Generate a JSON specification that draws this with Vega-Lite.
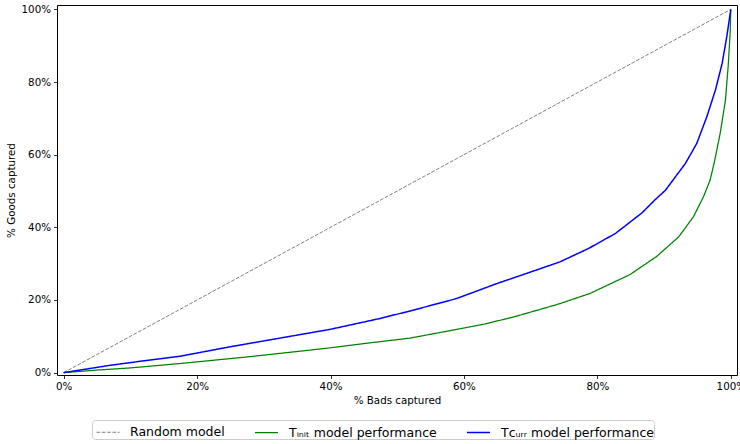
{
  "$schema": "https://vega.github.io/schema/vega-lite/v6.json",
  "width": 680,
  "height": 370,
  "autosize": "none",
  "padding": {"left": 57, "top": 5, "right": 3, "bottom": 69},
  "background": "white",
  "config": {
    "font": "DejaVu Sans",
    "view": {"stroke": "black", "strokeWidth": 1},
    "axis": {
      "grid": false,
      "domain": false,
      "tickColor": "black",
      "tickSize": 3.5,
      "tickWidth": 0.8,
      "labelFont": "DejaVu Sans",
      "labelFontSize": 10.3,
      "labelColor": "black",
      "labelPadding": 3,
      "titleFont": "DejaVu Sans",
      "titleFontSize": 10.3,
      "titleFontWeight": "normal",
      "titleColor": "black"
    },
    "legend": {
      "labelFont": "DejaVu Sans",
      "labelFontSize": 12.5,
      "labelColor": "black"
    }
  },
  "data": {
    "values": [
      {"series": "Random model", "bads": 0.0, "goods": 0.0},
      {"series": "Random model", "bads": 1.0, "goods": 1.0},

      {"series": "Tᵢₙᵢₜ model performance", "bads": 0.0, "goods": 0.0},
      {"series": "Tᵢₙᵢₜ model performance", "bads": 0.05, "goods": 0.007},
      {"series": "Tᵢₙᵢₜ model performance", "bads": 0.10, "goods": 0.013},
      {"series": "Tᵢₙᵢₜ model performance", "bads": 0.174, "goods": 0.025},
      {"series": "Tᵢₙᵢₜ model performance", "bads": 0.274, "goods": 0.043},
      {"series": "Tᵢₙᵢₜ model performance", "bads": 0.389, "goods": 0.066},
      {"series": "Tᵢₙᵢₜ model performance", "bads": 0.45, "goods": 0.080},
      {"series": "Tᵢₙᵢₜ model performance", "bads": 0.519, "goods": 0.095},
      {"series": "Tᵢₙᵢₜ model performance", "bads": 0.589, "goods": 0.119},
      {"series": "Tᵢₙᵢₜ model performance", "bads": 0.629, "goods": 0.133},
      {"series": "Tᵢₙᵢₜ model performance", "bads": 0.674, "goods": 0.153},
      {"series": "Tᵢₙᵢₜ model performance", "bads": 0.714, "goods": 0.174},
      {"series": "Tᵢₙᵢₜ model performance", "bads": 0.744, "goods": 0.190},
      {"series": "Tᵢₙᵢₜ model performance", "bads": 0.789, "goods": 0.218},
      {"series": "Tᵢₙᵢₜ model performance", "bads": 0.849, "goods": 0.270},
      {"series": "Tᵢₙᵢₜ model performance", "bads": 0.889, "goods": 0.320},
      {"series": "Tᵢₙᵢₜ model performance", "bads": 0.922, "goods": 0.374},
      {"series": "Tᵢₙᵢₜ model performance", "bads": 0.944, "goods": 0.429},
      {"series": "Tᵢₙᵢₜ model performance", "bads": 0.959, "goods": 0.484},
      {"series": "Tᵢₙᵢₜ model performance", "bads": 0.969, "goods": 0.530},
      {"series": "Tᵢₙᵢₜ model performance", "bads": 0.976, "goods": 0.585},
      {"series": "Tᵢₙᵢₜ model performance", "bads": 0.984, "goods": 0.658},
      {"series": "Tᵢₙᵢₜ model performance", "bads": 0.992, "goods": 0.750},
      {"series": "Tᵢₙᵢₜ model performance", "bads": 0.996, "goods": 0.842},
      {"series": "Tᵢₙᵢₜ model performance", "bads": 0.999, "goods": 0.934},
      {"series": "Tᵢₙᵢₜ model performance", "bads": 1.0, "goods": 1.0},

      {"series": "Tᴄᵤᵣᵣ model performance", "bads": 0.0, "goods": 0.0},
      {"series": "Tᴄᵤᵣᵣ model performance", "bads": 0.069, "goods": 0.020},
      {"series": "Tᴄᵤᵣᵣ model performance", "bads": 0.13, "goods": 0.035},
      {"series": "Tᴄᵤᵣᵣ model performance", "bads": 0.174, "goods": 0.045},
      {"series": "Tᴄᵤᵣᵣ model performance", "bads": 0.249, "goods": 0.071},
      {"series": "Tᴄᵤᵣᵣ model performance", "bads": 0.324, "goods": 0.095},
      {"series": "Tᴄᵤᵣᵣ model performance", "bads": 0.399, "goods": 0.119},
      {"series": "Tᴄᵤᵣᵣ model performance", "bads": 0.474, "goods": 0.149},
      {"series": "Tᴄᵤᵣᵣ model performance", "bads": 0.524, "goods": 0.172},
      {"series": "Tᴄᵤᵣᵣ model performance", "bads": 0.589, "goods": 0.204},
      {"series": "Tᴄᵤᵣᵣ model performance", "bads": 0.649, "goods": 0.245},
      {"series": "Tᴄᵤᵣᵣ model performance", "bads": 0.700, "goods": 0.277},
      {"series": "Tᴄᵤᵣᵣ model performance", "bads": 0.744, "goods": 0.305},
      {"series": "Tᴄᵤᵣᵣ model performance", "bads": 0.787, "goods": 0.342},
      {"series": "Tᴄᵤᵣᵣ model performance", "bads": 0.827, "goods": 0.383},
      {"series": "Tᴄᵤᵣᵣ model performance", "bads": 0.867, "goods": 0.440},
      {"series": "Tᴄᵤᵣᵣ model performance", "bads": 0.886, "goods": 0.475},
      {"series": "Tᴄᵤᵣᵣ model performance", "bads": 0.902, "goods": 0.502},
      {"series": "Tᴄᵤᵣᵣ model performance", "bads": 0.932, "goods": 0.576},
      {"series": "Tᴄᵤᵣᵣ model performance", "bads": 0.949, "goods": 0.631},
      {"series": "Tᴄᵤᵣᵣ model performance", "bads": 0.964, "goods": 0.704},
      {"series": "Tᴄᵤᵣᵣ model performance", "bads": 0.977, "goods": 0.778},
      {"series": "Tᴄᵤᵣᵣ model performance", "bads": 0.987, "goods": 0.851},
      {"series": "Tᴄᵤᵣᵣ model performance", "bads": 0.994, "goods": 0.925},
      {"series": "Tᴄᵤᵣᵣ model performance", "bads": 1.0, "goods": 1.0}
    ]
  },
  "mark": {"type": "line", "clip": true},
  "encoding": {
    "x": {
      "field": "bads",
      "type": "quantitative",
      "scale": {"domain": [-0.01, 1.0093], "nice": false, "zero": false},
      "axis": {"values": [0, 0.2, 0.4, 0.6, 0.8, 1.0], "format": ".0%", "title": "% Bads captured", "titlePadding": 4}
    },
    "y": {
      "field": "goods",
      "type": "quantitative",
      "scale": {"domain": [-0.0065, 1.012], "nice": false, "zero": false},
      "axis": {"values": [0, 0.2, 0.4, 0.6, 0.8, 1.0], "format": ".0%", "title": "% Goods captured", "titlePadding": 5}
    },
    "order": {"field": "bads", "type": "quantitative"},
    "color": {
      "field": "series",
      "type": "nominal",
      "scale": {
        "domain": ["Random model", "Tᵢₙᵢₜ model performance", "Tᴄᵤᵣᵣ model performance"],
        "range": ["gray", "green", "blue"]
      },
      "legend": {
        "title": null,
        "orient": "none",
        "direction": "horizontal",
        "legendX": 35,
        "legendY": 415,
        "symbolType": "stroke",
        "symbolSize": 529,
        "symbolOffset": 4,
        "symbolStrokeWidth": 1.5,
        "labelOffset": 10,
        "columnPadding": 25,
        "padding": 0,
        "strokeColor": "#cccccc",
        "fillColor": "white",
        "cornerRadius": 3
      }
    },
    "strokeDash": {
      "field": "series",
      "type": "nominal",
      "scale": {
        "domain": ["Random model", "Tᵢₙᵢₜ model performance", "Tᴄᵤᵣᵣ model performance"],
        "range": [[3.7, 1.6], [1, 0], [1, 0]]
      },
      "legend": null
    },
    "strokeWidth": {
      "field": "series",
      "type": "nominal",
      "scale": {
        "domain": ["Random model", "Tᵢₙᵢₜ model performance", "Tᴄᵤᵣᵣ model performance"],
        "range": [1, 1.5, 1.5]
      },
      "legend": null
    }
  }
}
